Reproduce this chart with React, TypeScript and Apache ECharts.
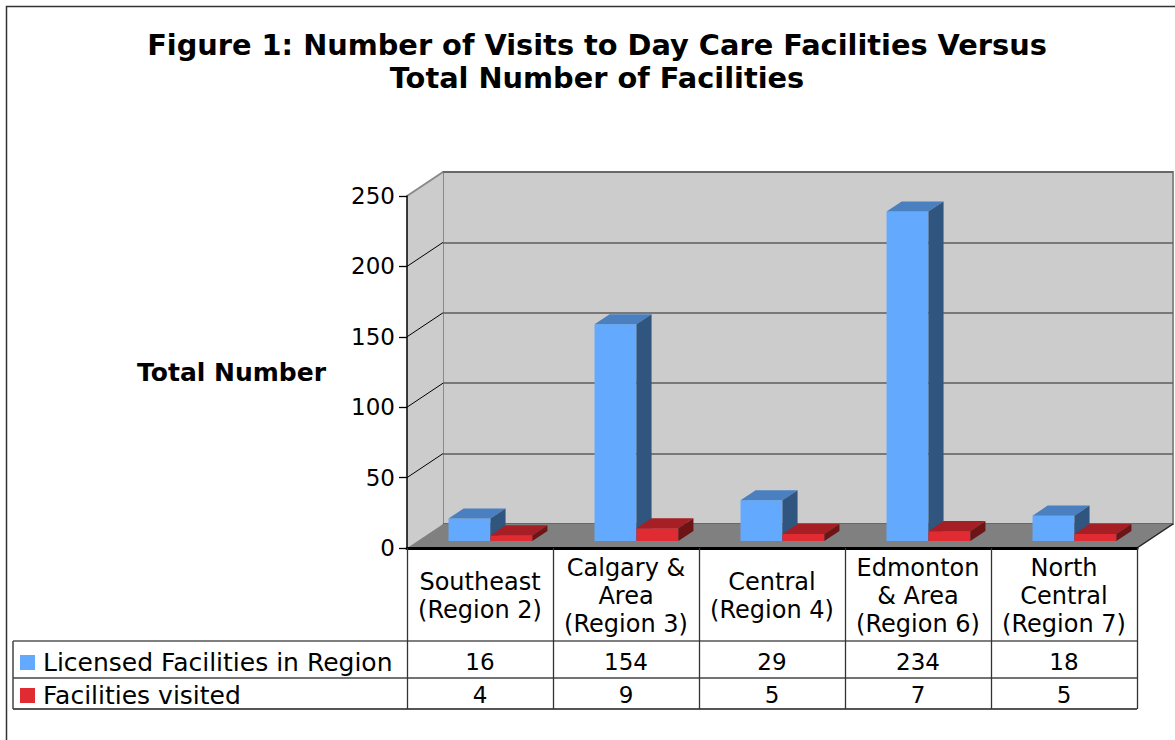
import React, { useEffect, useRef } from "react";
import * as echarts from "echarts";

// ---------- data ----------
const TITLE_LINES = [
  "Figure 1: Number of Visits to Day Care Facilities Versus",
  "Total Number of Facilities",
];
const Y_AXIS_NAME = "Total Number";
const CATEGORIES = [
  "Southeast\n(Region 2)",
  "Calgary &\nArea\n(Region 3)",
  "Central\n(Region 4)",
  "Edmonton\n& Area\n(Region 6)",
  "North\nCentral\n(Region 7)",
];
const SERIES_NAMES = ["Licensed Facilities in Region", "Facilities visited"];
const LICENSED = [16, 154, 29, 234, 18];
const VISITED = [4, 9, 5, 7, 5];
const Y_MIN = 0;
const Y_MAX = 250;
const Y_INTERVAL = 50;
const WALL_LINE_VALUES = [50, 100, 150, 200];

// ---------- layout / style ----------
const FONT = "DejaVu Sans";
const FRONT = { left: 407, top: 196, width: 730, height: 352 };
const DX = 36;
const DY = -24;
const D0 = 0.29; // bar depth start (fraction of floor depth)
const D1 = 0.71; // bar depth end
const BAR_RATIO = 0.287;
const ROW1_OFFSET = 114;
const ROW2_OFFSET = 147;
const LEGEND_ROW_CENTERS = [662, 695];

const BLUE = { front: "#63aaff", top: "#4a7fc0", side: "#30557e" };
const RED = { front: "#df2b31", top: "#a51f25", side: "#6d1417" };

const FL = FRONT.left;
const FT = FRONT.top;
const FR = FRONT.left + FRONT.width;
const FB = FRONT.top + FRONT.height;

function makeBarRender(k: number, colors: { front: string; top: string; side: string }, rowOffset: number) {
  return (params: any, api: any) => {
    const i = api.value(0);
    const v = api.value(1);
    const base = api.coord([i, 0]);
    const top = api.coord([i, v]);
    const band = api.size([1, 0])[0];
    const bw = band * BAR_RATIO;
    const ox = DX * D0;
    const oy = DY * D0;
    const ddx = DX * (D1 - D0);
    const ddy = DY * (D1 - D0);
    const x0 = base[0] + ox + (k - 1) * bw;
    const x1 = x0 + bw;
    const yb = base[1] + oy;
    const yt = top[1] + oy;
    return {
      type: "group",
      children: [
        {
          type: "rect",
          shape: { x: x0, y: yt, width: bw, height: yb - yt },
          style: { fill: colors.front },
        },
        {
          type: "polygon",
          shape: { points: [[x0, yt], [x1, yt], [x1 + ddx, yt + ddy], [x0 + ddx, yt + ddy]] },
          style: { fill: colors.top },
        },
        {
          type: "polygon",
          shape: { points: [[x1, yt], [x1 + ddx, yt + ddy], [x1 + ddx, yb + ddy], [x1, yb]] },
          style: { fill: colors.side },
        },
        {
          type: "text",
          style: {
            text: String(v),
            x: base[0],
            y: base[1] + rowOffset,
            align: "center",
            verticalAlign: "middle",
            fontSize: 23,
            fontFamily: FONT,
            fill: "#000",
          },
        },
      ],
    };
  };
}

export default function App() {
  const ref = useRef<HTMLDivElement>(null);

  useEffect(() => {
    if (!ref.current) return;
    const chart = echarts.init(ref.current, null, { renderer: "svg" });

    const tableLine = (x1: number, y1: number, x2: number, y2: number, w = 1.3, c = "#444") => ({
      type: "line",
      z: 1,
      shape: { x1, y1, x2, y2 },
      style: { stroke: c, lineWidth: w },
    });

    const legendFor = (idx: number) => ({
      data: [SERIES_NAMES[idx]],
      orient: "vertical",
      left: 20,
      top: LEGEND_ROW_CENTERS[idx] - 12,
      icon: "rect",
      itemWidth: 15,
      itemHeight: 15,
      padding: 0,
      selectedMode: false,
      textStyle: {
        fontFamily: FONT,
        fontSize: 25,
        lineHeight: 24,
        color: "#000",
        padding: [0, 0, 0, 3],
      },
    });

    const option: any = {
      animation: false,
      backgroundColor: "#ffffff",
      title: {
        text: TITLE_LINES.join("\n"),
        left: 597,
        top: 28,
        textAlign: "center",
        padding: 0,
        textStyle: {
          fontFamily: FONT,
          fontSize: 28.8,
          fontWeight: "bold",
          lineHeight: 33,
          color: "#000",
        },
      },
      legend: [legendFor(0), legendFor(1)],
      grid: [
        { left: FL, top: FT, width: FRONT.width, height: FRONT.height, show: false },
        {
          left: FL + DX,
          top: FT + DY,
          width: FRONT.width,
          height: FRONT.height,
          show: true,
          backgroundColor: "#cccccc",
          borderColor: "#8a8a8a",
          borderWidth: 2,
        },
      ],
      xAxis: [
        {
          gridIndex: 0,
          type: "category",
          data: CATEGORIES,
          boundaryGap: true,
          z: 5,
          axisLine: { show: true, lineStyle: { color: "#000", width: 3 } },
          axisTick: { show: true, length: 161, lineStyle: { color: "#333", width: 1.3 } },
          axisLabel: {
            interval: 0,
            margin: 48,
            verticalAlign: "middle",
            fontFamily: FONT,
            fontSize: 24,
            lineHeight: 28,
            color: "#000",
          },
          splitLine: { show: false },
        },
        {
          gridIndex: 1,
          type: "category",
          data: CATEGORIES,
          show: false,
        },
      ],
      yAxis: [
        {
          gridIndex: 0,
          type: "value",
          min: Y_MIN,
          max: Y_MAX,
          interval: Y_INTERVAL,
          name: Y_AXIS_NAME,
          nameLocation: "middle",
          nameRotate: 0,
          nameGap: 81,
          nameTextStyle: {
            fontFamily: FONT,
            fontSize: 25,
            fontWeight: "bold",
            color: "#000",
            align: "right",
            verticalAlign: "middle",
          },
          z: 5,
          axisLine: { show: true, lineStyle: { color: "#000", width: 1.5 } },
          axisTick: { show: true, length: 8, lineStyle: { color: "#000", width: 1.3 } },
          axisLabel: { fontFamily: FONT, fontSize: 23, color: "#000", margin: 12 },
          splitLine: { show: false },
        },
        {
          gridIndex: 1,
          type: "value",
          min: Y_MIN,
          max: Y_MAX,
          interval: Y_INTERVAL,
          axisLine: { show: false },
          axisTick: { show: false },
          axisLabel: { show: false },
          splitLine: { show: true, lineStyle: { color: "#5c5c5c", width: 1.6 } },
        },
      ],
      graphic: [
        // outer frame
        {
          type: "rect",
          z: 0,
          shape: { x: 6.5, y: 6.5, width: 1300, height: 900 },
          style: { fill: "none", stroke: "#333", lineWidth: 1.5 },
        },
        // left wall
        {
          type: "polygon",
          z: 1,
          shape: { points: [[FL, FB], [FL, FT], [FL + DX, FT + DY], [FL + DX, FB + DY]] },
          style: { fill: "#cccccc" },
        },
        {
          type: "line",
          z: 1,
          shape: { x1: FL, y1: FT, x2: FL + DX, y2: FT + DY },
          style: { stroke: "#8a8a8a", lineWidth: 2 },
        },
        // floor
        {
          type: "polygon",
          z: 1,
          shape: { points: [[FL, FB], [FL + DX, FB + DY], [FR + DX, FB + DY], [FR, FB]] },
          style: { fill: "#808080" },
        },
        {
          type: "line",
          z: 1,
          shape: { x1: FR, y1: FB, x2: FR + DX, y2: FB + DY },
          style: { stroke: "#222", lineWidth: 1.5 },
        },
        // table rows
        tableLine(13, 641, FR, 641, 1.5, "#555"),
        tableLine(13, 678, FR, 678, 1.3, "#444"),
        tableLine(13, 709, FR, 709, 1.8, "#555"),
        tableLine(13, 641, 13, 709, 1.5, "#444"),
      ],
      series: [
        {
          name: "wall-lines",
          type: "custom",
          xAxisIndex: 0,
          yAxisIndex: 0,
          silent: true,
          data: WALL_LINE_VALUES.map((v) => [0, v]),
          encode: { x: 0, y: 1 },
          renderItem: (params: any, api: any) => {
            const y = api.coord([0, api.value(1)])[1];
            const x = params.coordSys.x;
            return {
              type: "line",
              shape: { x1: x, y1: y, x2: x + DX, y2: y + DY },
              style: { stroke: "#000", lineWidth: 1 },
            };
          },
        },
        {
          name: SERIES_NAMES[0],
          type: "custom",
          xAxisIndex: 0,
          yAxisIndex: 0,
          itemStyle: { color: BLUE.front },
          data: LICENSED.map((v, i) => [i, v]),
          encode: { x: 0, y: 1 },
          renderItem: makeBarRender(0, BLUE, ROW1_OFFSET),
        },
        {
          name: SERIES_NAMES[1],
          type: "custom",
          xAxisIndex: 0,
          yAxisIndex: 0,
          itemStyle: { color: RED.front },
          data: VISITED.map((v, i) => [i, v]),
          encode: { x: 0, y: 1 },
          renderItem: makeBarRender(1, RED, ROW2_OFFSET),
        },
      ],
    };

    chart.setOption(option);
    return () => {
      chart.dispose();
    };
  }, []);

  return (
    <div
      ref={ref}
      style={{ position: "absolute", left: 0, top: 0, width: 1175, height: 740 }}
    />
  );
}
